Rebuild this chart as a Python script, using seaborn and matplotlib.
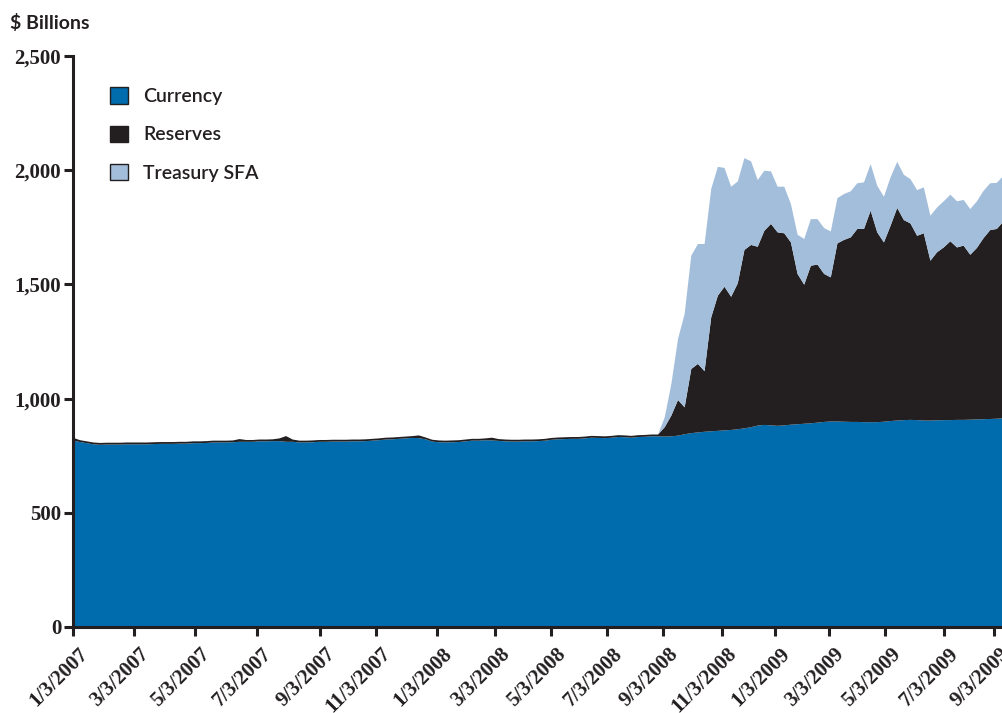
import numpy as np
import pandas as pd
import matplotlib
matplotlib.use("Agg")
import matplotlib.pyplot as plt
import seaborn as sns
from matplotlib.patches import Patch
from matplotlib.ticker import FuncFormatter
from matplotlib.transforms import ScaledTranslation

# weekly values, $ billions, week 0 = 1/3/2007
currency = [
    818, 812, 807, 802, 800, 801, 801, 801, 802, 802,
    802, 802, 803, 804, 804, 804, 805, 805, 807, 807,
    808, 810, 810, 810, 811, 813, 813, 813, 815, 815,
    816, 816, 813, 813, 810, 810, 811, 813, 813, 814,
    814, 814, 815, 815, 816, 818, 820, 823, 824, 826,
    828, 830, 829, 824, 814, 811, 810, 811, 812, 815,
    818, 818, 820, 819, 817, 815, 814, 814, 815, 815,
    816, 818, 822, 824, 825, 826, 826, 828, 831, 830,
    829, 831, 834, 833, 831, 834, 835, 837, 837, 836,
    837, 840, 846, 851, 854, 857, 859, 861, 863, 865,
    868, 872, 877, 884, 887, 885, 883, 885, 888, 890,
    892, 894, 897, 900, 902, 902, 901, 900, 900, 899,
    899, 899, 901, 904, 906, 908, 909, 908, 906, 906,
    907, 908, 908, 909, 909, 910, 911, 912, 913, 914,
    916,
]
reserves = [
    12, 8, 8, 8, 8, 8, 8, 8, 8, 8,
    8, 8, 8, 8, 8, 8, 8, 8, 8, 8,
    8, 8, 8, 8, 8, 12, 8, 8, 8, 8,
    8, 12, 25, 10, 8, 8, 8, 8, 8, 8,
    8, 8, 8, 8, 8, 8, 8, 8, 8, 8,
    8, 8, 12, 8, 8, 8, 8, 8, 8, 8,
    8, 8, 8, 12, 8, 8, 8, 8, 8, 8,
    8, 8, 8, 8, 8, 8, 8, 8, 8, 8,
    8, 8, 8, 8, 8, 8, 8, 8, 8, 41,
    91, 156, 118, 281, 300, 265, 499, 592, 629, 583,
    639, 781, 798, 783, 850, 882, 847, 841, 798, 658,
    609, 690, 692, 648, 631, 780, 796, 808, 845, 846,
    926, 831, 785, 855, 931, 876, 860, 807, 820, 700,
    736, 756, 783, 755, 763, 722, 751, 793, 827, 831,
    862,
]
treasury_sfa = [0] * 89 + [
    43,
    138, 267, 409, 496, 525, 557, 562, 564, 520, 482,
    446, 402, 366, 292, 263, 230, 200, 204, 168, 172,
    200, 204, 199, 201, 201, 198, 201, 202, 200, 204,
    204, 204, 200, 212, 202, 198, 194, 200, 201, 197,
    196, 202, 204, 202, 200, 200, 204, 207, 205, 202,
    200,
]

tick_labels = ["1/3/2007", "3/3/2007", "5/3/2007", "7/3/2007", "9/3/2007",
               "11/3/2007", "1/3/2008", "3/3/2008", "5/3/2008", "7/3/2008",
               "9/3/2008", "11/3/2008", "1/3/2009", "3/3/2009", "5/3/2009",
               "7/3/2009", "9/3/2009"]
# tick spots (in weeks) as placed on the original axis
tick_weeks = [0, 9.2, 18.4, 27.7, 37.2, 45.6, 54.8, 63.5, 71.9, 80.4,
              88.8, 97.7, 105.7, 113.8, 122.3, 131.1, 138.7]

df = pd.DataFrame({"Currency": currency, "Reserves": reserves,
                   "Treasury SFA": treasury_sfa})
df["week"] = np.arange(len(df))

sns.set_style("ticks")
plt.rcParams["font.family"] = ["Lato", "DejaVu Sans"]

colors = ["#006BAD", "#231F20", "#A3BEDB"]
ink = "#231F20"

fig = plt.figure(figsize=(10.03, 7.13), dpi=100)
ax = fig.add_axes([73 / 1003, 1 - 627 / 713, 930 / 1003, 571 / 713])

ax.stackplot(df["week"], df["Currency"], df["Reserves"], df["Treasury SFA"],
             colors=colors, linewidth=0)

ax.set_xlim(0, len(df) - 1)
ax.set_ylim(0, 2500)
ax.set_yticks([0, 500, 1000, 1500, 2000, 2500])
ax.yaxis.set_major_formatter(FuncFormatter(lambda v, p: f"{int(v):,}"))
ax.set_xticks(tick_weeks)
ax.set_xticklabels(tick_labels)

sns.despine(ax=ax)
for s in ["left", "bottom"]:
    ax.spines[s].set_linewidth(2.2)
    ax.spines[s].set_color(ink)
ax.tick_params(axis="both", length=6.5, width=2.2, color=ink, direction="out",
               pad=2, labelcolor=ink)

for lab in ax.get_yticklabels():
    lab.set_fontfamily(["Liberation Serif", "DejaVu Serif"])
    lab.set_fontweight("bold")
    lab.set_fontsize(15)
shift = ScaledTranslation(5 / 100, -5 / 100, fig.dpi_scale_trans)
for lab in ax.get_xticklabels():
    lab.set_fontfamily(["Liberation Serif", "DejaVu Serif"])
    lab.set_fontweight("bold")
    lab.set_fontsize(15)
    lab.set_rotation(45)
    lab.set_ha("right")
    lab.set_va("top")
    lab.set_rotation_mode("anchor")
    lab.set_transform(lab.get_transform() + shift)

fig.text(10 / 1003, 1 - 29 / 713, "$ Billions", fontsize=14, fontweight="bold",
         color=ink, ha="left", va="baseline")

handles = [Patch(facecolor=c, edgecolor=ink, linewidth=1) for c in colors]
leg = ax.legend(handles, ["Currency", "Reserves", "Treasury SFA"],
                loc="upper left", bbox_to_anchor=(0.0398, 0.945),
                frameon=False, borderaxespad=0, borderpad=0,
                handlelength=0.9, handleheight=0.9, handletextpad=0.8,
                labelspacing=1.05, prop={"size": 14, "weight": "semibold"})
for t in leg.get_texts():
    t.set_color(ink)

fig.savefig("out.png", dpi=100)
